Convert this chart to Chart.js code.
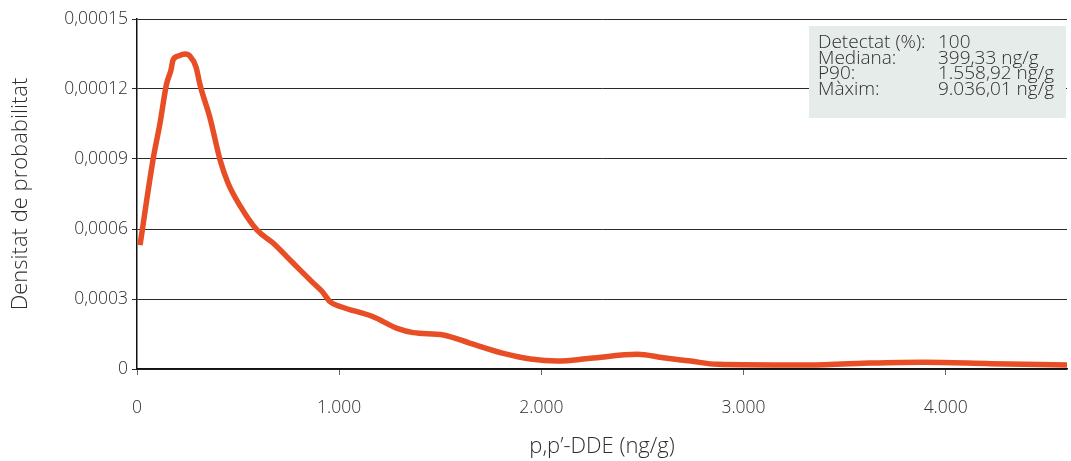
<!DOCTYPE html>
<html lang="ca">
<head>
<meta charset="utf-8">
<title>Densitat de probabilitat de p,p'-DDE</title>
<script src="https://cdn.jsdelivr.net/npm/chart.js@4/dist/chart.umd.min.js"></script>
<style>
  html, body { margin: 0; padding: 0; background: #ffffff; }
  #wrap { width: 1071px; height: 461px; position: relative; }
</style>
</head>
<body>
<div id="wrap"><canvas id="chart"></canvas></div>
<script>
// Concentració de p,p'-DDE (ng/g) i densitat estimada
const concentration = [15, 79, 114, 146, 168, 178, 203, 238, 262, 292, 312, 361, 411, 450, 510, 593, 673, 772, 871, 916, 955, 1005, 1168, 1287, 1366, 1515, 1649, 1812, 1946, 2079, 2243, 2475, 2604, 2738, 2871, 3282, 3564, 3891, 4223, 4604];
const density = [5.31e-5, 8.96e-5, 1.054e-4, 1.221e-4, 1.281e-4, 1.324e-4, 1.341e-4, 1.35e-4, 1.341e-4, 1.294e-4, 1.217e-4, 1.076e-4, 8.96e-5, 7.97e-5, 6.99e-5, 5.96e-5, 5.4e-5, 4.54e-5, 3.69e-5, 3.32e-5, 2.88e-5, 2.68e-5, 2.24e-5, 1.74e-5, 1.56e-5, 1.46e-5, 1.1e-5, 6.7e-6, 4.3e-6, 3.4e-6, 4.6e-6, 6.3e-6, 4.8e-6, 3.4e-6, 2.0e-6, 1.7e-6, 2.4e-6, 2.9e-6, 2.3e-6, 1.7e-6];

const yTickLabels = ['0', '0,0003', '0,0006', '0,0009', '0,00012', '0,00015'];
const xTickValues = [0, 1000, 2000, 3000, 4000];
const xTickLabels = ['0', '1.000', '2.000', '3.000', '4.000'];

const statLabels = ['Detectat (%):', 'Mediana:', 'P90:', 'Màxim:'];
const statValues = ['100', '399,33 ng/g', '1.558,92 ng/g', '9.036,01 ng/g'];

const points = concentration.map((c, i) => ({ x: c, y: density[i] }));

const textColor = '#2e2e2e';
const fontFamily = "'Open Sans', 'Liberation Sans', Arial, sans-serif";

// Quadre de resum estadístic a la cantonada superior dreta
const statsBox = {
  id: 'statsBox',
  afterDatasetsDraw(chart) {
    const { ctx, chartArea } = chart;
    const right = chartArea.right - 1;
    const left = right - 257;
    const top = chartArea.top + 7;
    const height = 92;
    ctx.save();
    ctx.fillStyle = '#e6ecea';
    ctx.fillRect(left, top, right - left, height);
    ctx.fillStyle = textColor;
    ctx.font = "300 19px " + fontFamily;
    ctx.textBaseline = 'middle';
    ctx.textAlign = 'left';
    statLabels.forEach((lab, i) => {
      const y = top + 17 + i * 15.5;
      ctx.fillText(lab, left + 9, y);
      ctx.fillText(statValues[i], left + 129, y);
    });
    ctx.restore();
  }
};

new Chart(document.getElementById('chart'), {
  type: 'line',
  data: {
    datasets: [{
      data: points,
      borderColor: '#e84e26',
      borderWidth: 5.5,
      pointRadius: 0,
      fill: false,
      tension: 0.4,
      cubicInterpolationMode: 'monotone'
    }]
  },
  options: {
    responsive: true,
    maintainAspectRatio: false,
    animation: false,
    layout: { padding: { left: 0, right: 4, top: 19, bottom: 0 } },
    plugins: { legend: { display: false }, tooltip: { enabled: false } },
    scales: {
      x: {
        type: 'linear',
        min: 0,
        max: 4600,
        afterFit(scale) { scale.height = 92; },
        afterBuildTicks(scale) {
          scale.ticks = xTickValues.map(v => ({ value: v }));
        },
        ticks: {
          autoSkip: false,
          padding: 23,
          color: textColor,
          font: { family: fontFamily, size: 17.5, weight: 300 },
          maxRotation: 0,
          callback: (v) => xTickLabels[xTickValues.indexOf(v)]
        },
        grid: { drawOnChartArea: false, drawTicks: true, tickLength: 6, color: '#666666' },
        border: { display: true, color: '#111111', width: 1.5 },
        title: {
          display: true,
          text: "p,p\u2019-DDE (ng/g)",
          color: textColor,
          font: { family: fontFamily, size: 22, weight: 300 },
          padding: { top: 0, bottom: 1 }
        }
      },
      y: {
        min: 0,
        max: 0.00015,
        afterFit(scale) { scale.width = 137; },
        ticks: {
          stepSize: 0.00003,
          padding: 4,
          color: textColor,
          font: { family: fontFamily, size: 17.5, weight: 300 },
          callback: (v, i) => yTickLabels[i]
        },
        grid: { color: '#2a2a2a', lineWidth: 1, drawTicks: true, tickLength: 5 },
        border: { display: true, color: '#111111', width: 1.5 },
        title: {
          display: true,
          text: 'Densitat de probabilitat',
          color: textColor,
          font: { family: fontFamily, size: 22, weight: 300 },
          padding: { top: 8, bottom: 0 }
        }
      }
    }
  },
  plugins: [statsBox]
});
</script>
</body>
</html>
